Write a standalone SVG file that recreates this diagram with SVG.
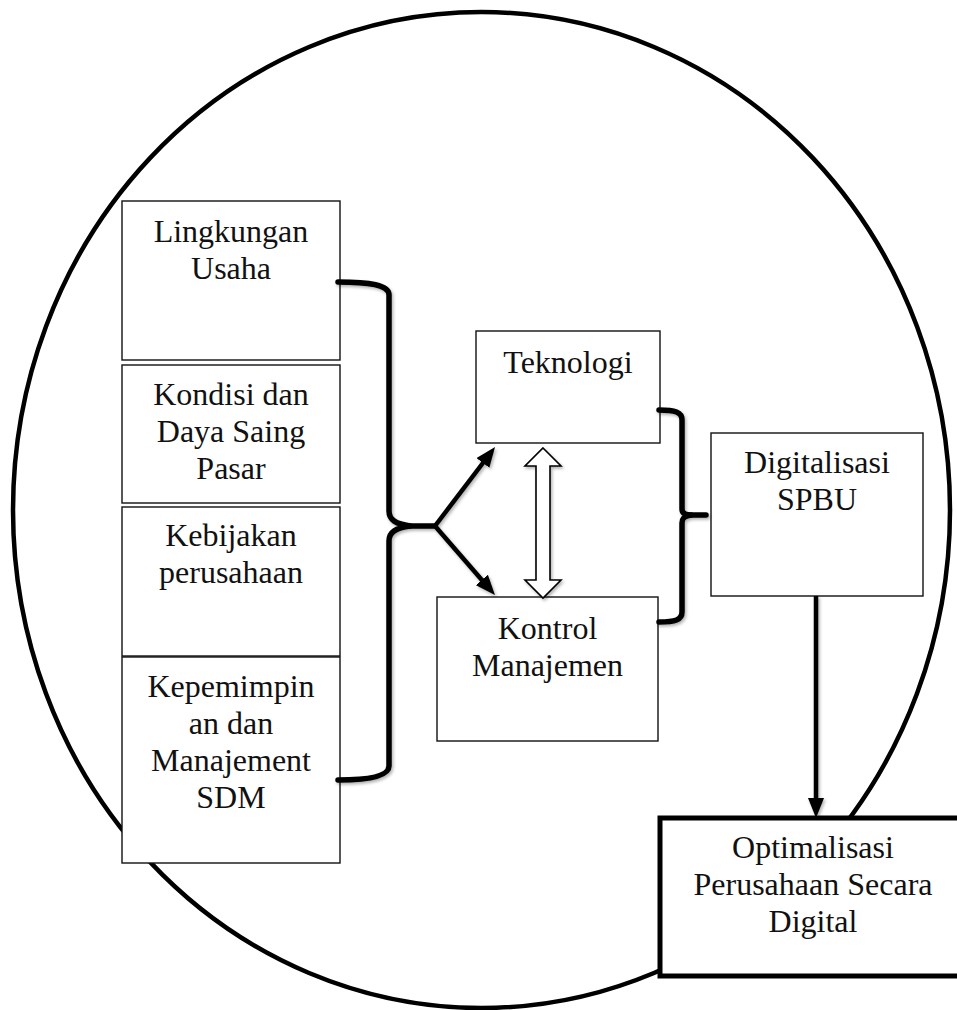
<svg xmlns="http://www.w3.org/2000/svg" width="957" height="1010" viewBox="0 0 957 1010">
  <defs>
    <style>
      .box { fill: #ffffff; stroke: #111111; stroke-width: 1.4; }
      .box-bold { fill: #ffffff; stroke: #000000; stroke-width: 5; }
      .label { font-family: "Liberation Serif", "Times New Roman", serif; font-size: 32px; fill: #111111; text-anchor: middle; }
      .brace { fill: none; stroke: #000000; stroke-width: 5.5; stroke-linecap: round; stroke-linejoin: round; }
      .arrow { fill: none; stroke: #000000; stroke-width: 4.5; }
      .open-arrow { fill: #ffffff; stroke: #000000; stroke-width: 1.6; stroke-linejoin: miter; }
    </style>
    <marker id="head" viewBox="0 0 20 16" markerUnits="userSpaceOnUse" markerWidth="20" markerHeight="16" refX="10" refY="8" orient="auto">
      <path d="M0,0 L20,8 L0,16 z" fill="#000000"/>
    </marker>
    <filter id="shadow" x="-20%" y="-20%" width="140%" height="140%">
      <feDropShadow dx="1.5" dy="2" stdDeviation="1.5" flood-color="#000000" flood-opacity="0.3"/>
    </filter>
  </defs>

  <rect width="957" height="1010" fill="#ffffff"/>

  <!-- enclosing ellipse -->
  <ellipse id="frame" cx="481.5" cy="510" rx="468.5" ry="498" fill="none" stroke="#000000" stroke-width="4.5"/>

  <!-- left-hand factor boxes -->
  <g id="lingkungan">
    <rect class="box" x="122" y="201" width="218" height="159"/>
    <text class="label" x="231" y="242">Lingkungan</text>
    <text class="label" x="231" y="279">Usaha</text>
  </g>
  <g id="kondisi">
    <rect class="box" x="122" y="365" width="218" height="138"/>
    <text class="label" x="231" y="405">Kondisi dan</text>
    <text class="label" x="231" y="442">Daya Saing</text>
    <text class="label" x="231" y="479">Pasar</text>
  </g>
  <g id="kebijakan">
    <rect class="box" x="122" y="507" width="218" height="149"/>
    <text class="label" x="231" y="546">Kebijakan</text>
    <text class="label" x="231" y="583">perusahaan</text>
  </g>
  <g id="kepemimpinan">
    <rect class="box" x="122" y="657" width="218" height="206"/>
    <text class="label" x="231" y="697">Kepemimpin</text>
    <text class="label" x="231" y="734">an dan</text>
    <text class="label" x="231" y="771">Manajement</text>
    <text class="label" x="231" y="808">SDM</text>
  </g>

  <!-- middle boxes -->
  <g id="teknologi">
    <rect class="box" x="476" y="331" width="184" height="112"/>
    <text class="label" x="568" y="373">Teknologi</text>
  </g>
  <g id="kontrol">
    <rect class="box" x="437" y="597" width="221" height="144"/>
    <text class="label" x="547.5" y="639">Kontrol</text>
    <text class="label" x="547.5" y="676">Manajemen</text>
  </g>

  <!-- right boxes -->
  <g id="digitalisasi">
    <rect class="box" x="711" y="433" width="212" height="163"/>
    <text class="label" x="817" y="473">Digitalisasi</text>
    <text class="label" x="817" y="510">SPBU</text>
  </g>
  <g id="optimalisasi">
    <rect class="box-bold" x="660" y="818" width="310" height="158"/>
    <text class="label" x="813" y="858">Optimalisasi</text>
    <text class="label" x="813" y="895">Perusahaan Secara</text>
    <text class="label" x="813" y="932">Digital</text>
  </g>

  <!-- connectors -->
  <g id="connectors" filter="url(#shadow)">
    <!-- left brace gathering the four factors -->
    <path class="brace" d="M338,282 C370,282 389,285 389,295 L389,511 C389,520 396,524 410,526 L435,526"/>
    <path class="brace" d="M410,526 C396,528 389,532 389,541 L389,766 C389,776 370,780 338,780"/>
    <!-- split arrows to Teknologi and Kontrol Manajemen -->
    <line class="arrow" x1="435" y1="526" x2="489" y2="455" marker-end="url(#head)"/>
    <line class="arrow" x1="435" y1="526" x2="488.4" y2="587.5" marker-end="url(#head)"/>
    <!-- two-way open arrow between Teknologi and Kontrol -->
    <polygon class="open-arrow" points="543,448 561,466 550,466 550,580 561,580 543,598 525,580 536,580 536,466 525,466"/>
    <!-- right brace joining Teknologi and Kontrol -->
    <path class="brace" d="M659,410 C675,410 682,412 682,420 L682,509 C682,513 685,515 691,515 L706,515"/>
    <path class="brace" d="M691,515 C685,516 682,518 682,523 L682,612 C682,620 675,622 659,622"/>
    <!-- Digitalisasi down to Optimalisasi -->
    <line class="arrow" x1="816" y1="596" x2="816" y2="808" marker-end="url(#head)"/>
  </g>
</svg>
